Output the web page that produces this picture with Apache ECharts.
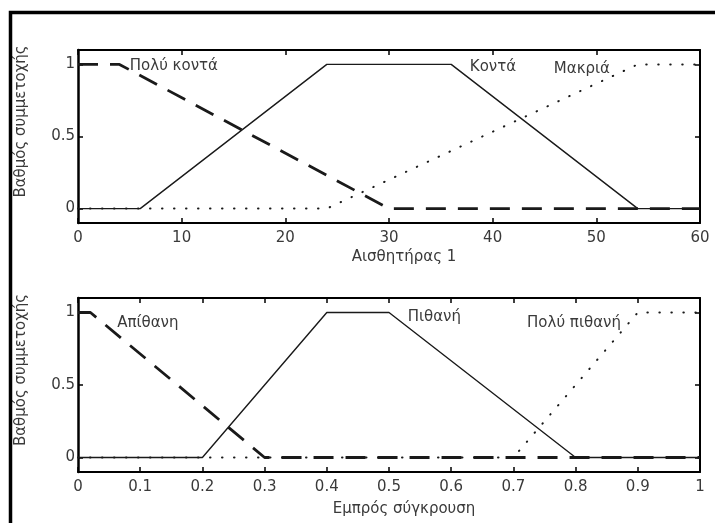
<!DOCTYPE html>
<html>
<head>
<meta charset="utf-8">
<script src="https://cdn.jsdelivr.net/npm/echarts@6/dist/echarts.min.js"></script>
<style>
html,body{margin:0;padding:0;background:#fff;}
#chart{width:715px;height:523px;}
</style>
</head>
<body>
<div id="chart"></div>
<script>
// ---- Data: top chart (Αισθητήρας 1) ----
const topXTicks = [0, 10, 20, 30, 40, 50, 60];
const yTicks = [0, 0.5, 1];
const polyKonta = [[0, 1], [4, 1], [30, 0], [60, 0]];
const konta = [[0, 0], [6, 0], [24, 1], [36, 1], [54, 0], [60, 0]];
const makria = [[0, 0], [24, 0], [54, 1], [60, 1]];
const topLabels = ['Πολύ κοντά', 'Κοντά', 'Μακριά'];
const topLabelAt = [[5, 0.99], [37.8, 0.98], [45.9, 0.965]];

// ---- Data: bottom chart (Εμπρός σύγκρουση) ----
const bottomXTicks = [0, 0.1, 0.2, 0.3, 0.4, 0.5, 0.6, 0.7, 0.8, 0.9, 1];
const apithani = [[0, 1], [0.02, 1], [0.3, 0], [1, 0]];
const pithani = [[0, 0], [0.2, 0], [0.4, 1], [0.5, 1], [0.8, 0], [1, 0]];
const polyPithani = [[0, 0], [0.7, 0], [0.9, 1], [1, 1]];
const bottomLabels = ['Απίθανη', 'Πιθανή', 'Πολύ πιθανή'];
const bottomLabelAt = [[0.063, 0.93], [0.53, 0.965], [0.722, 0.93]];

const yName = 'Βαθμός συμμετοχής';
const topXName = 'Αισθητήρας 1';
const bottomXName = 'Εμπρός σύγκρουση';

const FONT = "'DejaVu Sans', 'Liberation Sans', Arial, sans-serif";
const TXT = '#3a3a3a';
const LINE = '#1a1a1a';

function xAxisMain(gi, min, max, interval, name, gap) {
  return {
    type: 'value', gridIndex: gi, min: min, max: max, interval: interval,
    position: 'bottom',
    name: name, nameLocation: 'middle', nameGap: gap,
    nameTextStyle: { fontFamily: FONT, fontSize: 15, color: TXT, padding: [0, 0, 0, 30] },
    axisLine: { show: true, onZero: false, lineStyle: { color: '#000', width: 2 } },
    axisTick: { show: true, inside: true, length: 5, lineStyle: { color: '#000', width: 1.5 } },
    axisLabel: { fontFamily: FONT, fontSize: 15, color: TXT, margin: 8 },
    splitLine: { show: false }
  };
}
function xAxisTop(gi, min, max, interval) {
  return {
    type: 'value', gridIndex: gi, min: min, max: max, interval: interval,
    position: 'top',
    axisLine: { show: true, onZero: false, lineStyle: { color: '#000', width: 2 } },
    axisTick: { show: true, inside: true, length: 5, lineStyle: { color: '#000', width: 1.5 } },
    axisLabel: { show: false },
    splitLine: { show: false }
  };
}
function yAxisMain(gi) {
  return {
    type: 'value', gridIndex: gi, min: -0.1, max: 1.1,
    position: 'left',
    name: yName, nameLocation: 'middle', nameGap: 49, nameRotate: 90,
    nameTextStyle: { fontFamily: FONT, fontSize: 15, color: TXT, padding: [0, 0, 0, 30] },
    axisLine: { show: true, onZero: false, lineStyle: { color: '#000', width: 2.5 } },
    axisTick: { show: true, inside: true, length: 5, customValues: yTicks, lineStyle: { color: '#000', width: 1.5 } },
    axisLabel: { fontFamily: FONT, fontSize: 15, color: TXT, margin: 3, customValues: yTicks },
    splitLine: { show: false }
  };
}
function yAxisRight(gi) {
  return {
    type: 'value', gridIndex: gi, min: -0.1, max: 1.1,
    position: 'right',
    axisLine: { show: true, onZero: false, lineStyle: { color: '#000', width: 2 } },
    axisTick: { show: true, inside: true, length: 5, customValues: yTicks, lineStyle: { color: '#000', width: 1.5 } },
    axisLabel: { show: false, customValues: yTicks },
    splitLine: { show: false }
  };
}

function lineSeries(xi, yi, data, type, width, labelName, labelAt) {
  const s = {
    type: 'line', xAxisIndex: xi, yAxisIndex: yi, data: data,
    showSymbol: false, symbol: 'none', animation: false, silent: true,
    lineStyle: { color: LINE, width: width, type: type, cap: type === 'dotted' ? 'round' : 'butt' },
    z: type === 'solid' ? 4 : 3
  };
  if (type === 'dashed') s.lineStyle.type = [20, 12];
  if (type === 'dotted') s.lineStyle.type = [0.5, 11.5];
  if (labelName) {
    s.markPoint = {
      symbol: 'circle', symbolSize: 0, silent: true, animation: false,
      data: [{ coord: labelAt, name: labelName }],
      label: { show: true, position: 'right', distance: 0, formatter: '{b}',
               fontFamily: FONT, fontSize: 15, color: TXT }
    };
  }
  return s;
}

const chart = echarts.init(document.getElementById('chart'), null, { renderer: 'canvas' });
chart.setOption({
  backgroundColor: '#fff',
  animation: false,
  grid: [
    { left: 78, top: 50, right: 15, height: 173 },
    { left: 78, top: 298, right: 15, height: 174 }
  ],
  xAxis: [
    xAxisMain(0, topXTicks[0], topXTicks[topXTicks.length - 1], topXTicks[1] - topXTicks[0], topXName, 27),
    xAxisTop(0, topXTicks[0], topXTicks[topXTicks.length - 1], topXTicks[1] - topXTicks[0]),
    xAxisMain(1, bottomXTicks[0], bottomXTicks[bottomXTicks.length - 1], 0.1, bottomXName, 30),
    xAxisTop(1, bottomXTicks[0], bottomXTicks[bottomXTicks.length - 1], 0.1)
  ],
  yAxis: [yAxisMain(0), yAxisRight(0), yAxisMain(1), yAxisRight(1)],
  series: [
    lineSeries(0, 0, makria, 'dotted', 2, topLabels[2], topLabelAt[2]),
    lineSeries(0, 0, polyKonta, 'dashed', 2.8, topLabels[0], topLabelAt[0]),
    lineSeries(0, 0, konta, 'solid', 1.4, topLabels[1], topLabelAt[1]),
    lineSeries(2, 2, polyPithani, 'dotted', 2, bottomLabels[2], bottomLabelAt[2]),
    lineSeries(2, 2, apithani, 'dashed', 2.8, bottomLabels[0], bottomLabelAt[0]),
    lineSeries(2, 2, pithani, 'solid', 1.4, bottomLabels[1], bottomLabelAt[1])
  ],
  graphic: [
    { type: 'rect', silent: true, z: 100,
      shape: { x: 10.5, y: 12.5, width: 760, height: 560 },
      style: { fill: null, stroke: '#000', lineWidth: 3.5 } }
  ]
});
</script>
</body>
</html>
